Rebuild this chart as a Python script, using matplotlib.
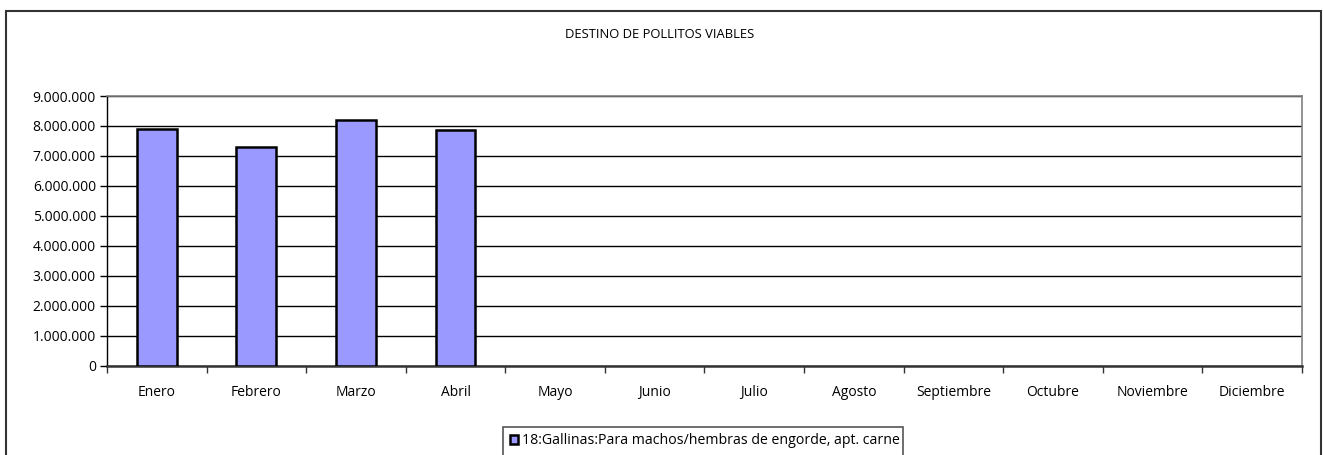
import matplotlib
matplotlib.use("Agg")
import matplotlib.pyplot as plt
from matplotlib.patches import Rectangle
from matplotlib.ticker import FuncFormatter, MultipleLocator, FixedLocator
import numpy as np

months = ["Enero", "Febrero", "Marzo", "Abril", "Mayo", "Junio", "Julio",
          "Agosto", "Septiembre", "Octubre", "Noviembre", "Diciembre"]
values = [7910000, 7310000, 8190000, 7880000, 0, 0, 0, 0, 0, 0, 0, 0]
series_name = "18:Gallinas:Para machos/hembras de engorde, apt. carne"
title = "DESTINO DE POLLITOS VIABLES"

W, H = 1323, 455
plt.rcParams['font.family'] = ['Open Sans', 'DejaVu Sans']
fig = plt.figure(figsize=(W / 100, H / 100), dpi=100)
fig.patch.set_facecolor("white")

# outer chart frame
fig.patches.append(Rectangle((6 / W, -0.05), (1321 - 6) / W, 1.05 - 11 / H,
                             transform=fig.transFigure, fill=False,
                             edgecolor="#333333", linewidth=1.5))

left, right, top, bottom = 107, 1302, 96, 365.5
ax = fig.add_axes([left / W, 1 - bottom / H, (right - left) / W, (bottom - top) / H])

x = np.arange(len(months))
shown = [v if v > 0 else np.nan for v in values]
ax.bar(x, shown, width=0.4, color="#9999FF", edgecolor="black", linewidth=1.8, zorder=3)

ax.set_xlim(-0.5, len(months) - 0.5)
ax.set_ylim(0, 9000000)
ax.yaxis.set_major_locator(MultipleLocator(1000000))
ax.yaxis.set_major_formatter(FuncFormatter(lambda v, p: f"{int(v):,}".replace(",", ".")))
ax.grid(axis="y", color="black", linewidth=1.0, zorder=0)
ax.set_axisbelow(True)

ax.set_xticks(x)
ax.set_xticklabels(months)
ax.xaxis.set_minor_locator(FixedLocator(np.arange(-0.5, len(months), 1.0)))
ax.tick_params(axis="x", which="major", length=0, pad=14, labelsize=10, colors="black")
ax.tick_params(axis="x", which="minor", length=5, width=1, direction="out", color="#333333")
ax.tick_params(axis="y", which="major", length=5, width=1, direction="out", labelsize=10, pad=3)

for s in ["top", "right"]:
    ax.spines[s].set_color("#808080")
    ax.spines[s].set_linewidth(1.2)
ax.spines["left"].set_color("black")
ax.spines["left"].set_linewidth(1.0)
ax.spines["bottom"].set_color("#333333")
ax.spines["bottom"].set_linewidth(1.8)

fig.text(660 / W, 1 - 34 / H, title, ha="center", va="center", fontsize=9.4)

# legend frame
fig.patches.append(Rectangle((503 / W, -0.05), (903 - 503) / W, 1.05 - 427 / H,
                             transform=fig.transFigure, fill=False,
                             edgecolor="#555555", linewidth=1.2))
handle = Rectangle((0, 0), 1, 1, facecolor="#9999FF", edgecolor="black", linewidth=1.8)
fig.legend([handle], [series_name], loc="center", bbox_to_anchor=(705 / W, 1 - 441 / H),
           frameon=False, handlelength=0.6, handleheight=0.6, handletextpad=0.3,
           fontsize=10.2, borderpad=0)

fig.savefig("out.png", dpi=100, facecolor="white")
